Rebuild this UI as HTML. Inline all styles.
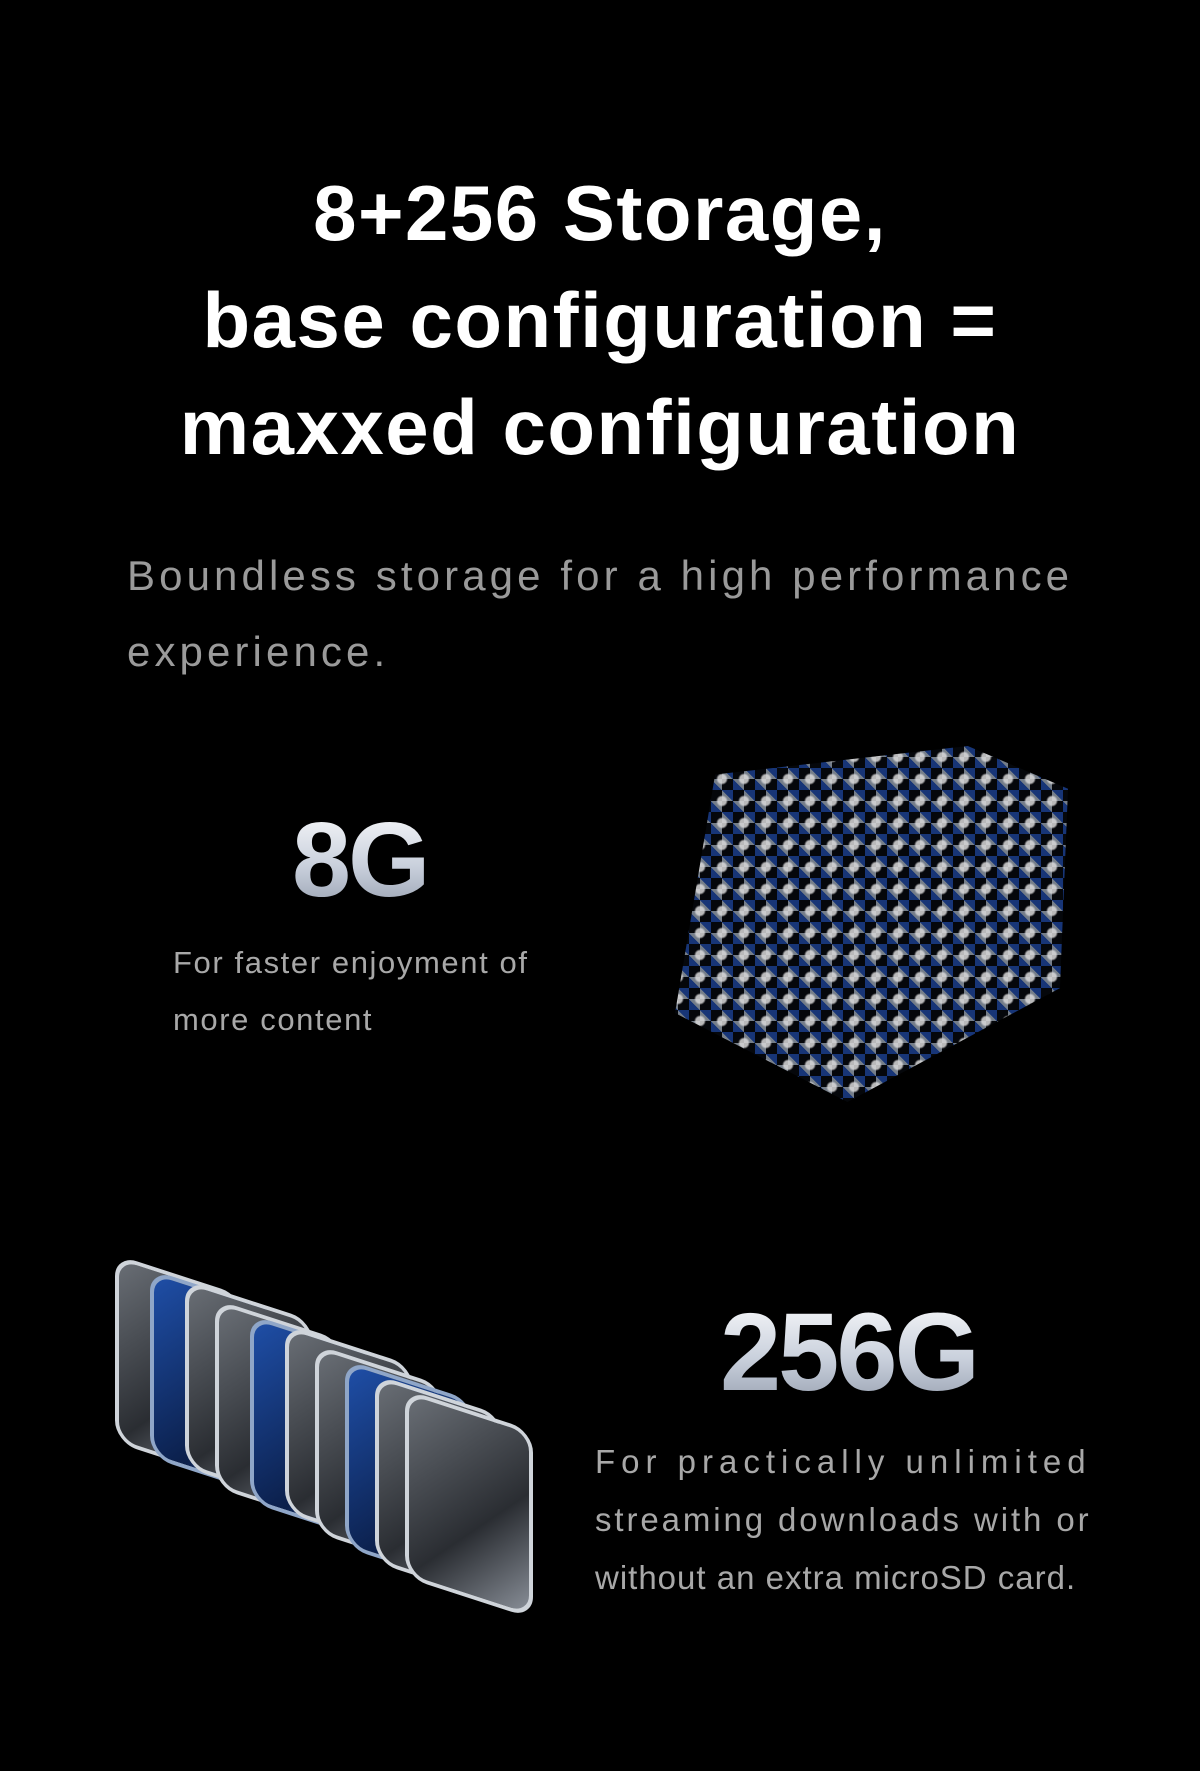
<!DOCTYPE html>
<html><head><meta charset="utf-8"><style>
html,body{margin:0;padding:0;background:#000;}
body{width:1200px;height:1771px;position:relative;overflow:hidden;font-family:"Liberation Sans",sans-serif;}
.t{position:absolute;left:0;width:1200px;text-align:center;color:#fff;font-weight:bold;font-size:78px;line-height:107px;top:160px;letter-spacing:1.5px;}
.sub{position:absolute;left:127px;top:538px;width:1060px;color:#9a9a9a;font-size:42px;line-height:76px;letter-spacing:4.1px;}
.big{position:absolute;font-weight:bold;background:linear-gradient(180deg,#fff 0%,#c9d0dc 55%,#8e97a8 100%);-webkit-background-clip:text;background-clip:text;color:transparent;letter-spacing:-3px;}
.d{position:absolute;color:#a8a8a8;white-space:nowrap;}
.cube{position:absolute;left:667px;top:746px;width:401px;height:356px;
clip-path:polygon(12% 8%,75% 0%,100% 12%,98% 68%,45% 100%,2% 75%);
background:
radial-gradient(circle at 50% 50%,rgba(255,255,255,.85) 0 4px,transparent 6px) 0 0/22px 22px,
linear-gradient(45deg,#1c3f8c 25%,transparent 25%,transparent 75%,#1c3f8c 75%) 0 0/22px 22px,
linear-gradient(45deg,#8a94a2 25%,#07090e 25%,#07090e 75%,#8a94a2 75%) 11px 11px/22px 22px;
opacity:.85;}
.card{position:absolute;width:120px;height:180px;border-radius:22px;border:4px solid #cfd4da;
background:linear-gradient(135deg,#6a6f76,#2a2d32 60%,#8a9099);transform:skewY(18deg);}
.blue{background:linear-gradient(135deg,#1f4fa8,#0b1f4a 70%,#3b6fd0);border-color:#8fa6c8;}
</style></head><body>
<div class="t">8+256 Storage,<br>base configuration =<br>maxxed configuration</div>
<div class="sub">Boundless storage for a high performance<br>experience.</div>
<div class="big" style="left:292px;top:800px;font-size:106px;line-height:120px;">8G</div>
<div class="d" style="left:173px;top:934px;font-size:31px;line-height:57px;letter-spacing:1.6px;">For faster enjoyment of<br>more content</div>
<div class="cube"></div>
<div class="card" style="left:115px;top:1275px;"></div>
<div class="card blue" style="left:150px;top:1290px;"></div>
<div class="card" style="left:185px;top:1300px;"></div>
<div class="card" style="left:215px;top:1320px;"></div>
<div class="card blue" style="left:250px;top:1335px;"></div>
<div class="card" style="left:285px;top:1345px;"></div>
<div class="card" style="left:315px;top:1365px;"></div>
<div class="card blue" style="left:345px;top:1380px;"></div>
<div class="card" style="left:375px;top:1395px;"></div>
<div class="card" style="left:405px;top:1410px;width:120px;"></div>
<div class="big" style="left:720px;top:1290px;font-size:110px;line-height:125px;">256G</div>
<div class="d" style="left:595px;top:1433px;font-size:33px;line-height:58px;"><span style="letter-spacing:6px">For practically unlimited</span><br><span style="letter-spacing:2.9px">streaming downloads with or</span><br><span style="letter-spacing:1px">without an extra microSD card.</span></div>
</body></html>
